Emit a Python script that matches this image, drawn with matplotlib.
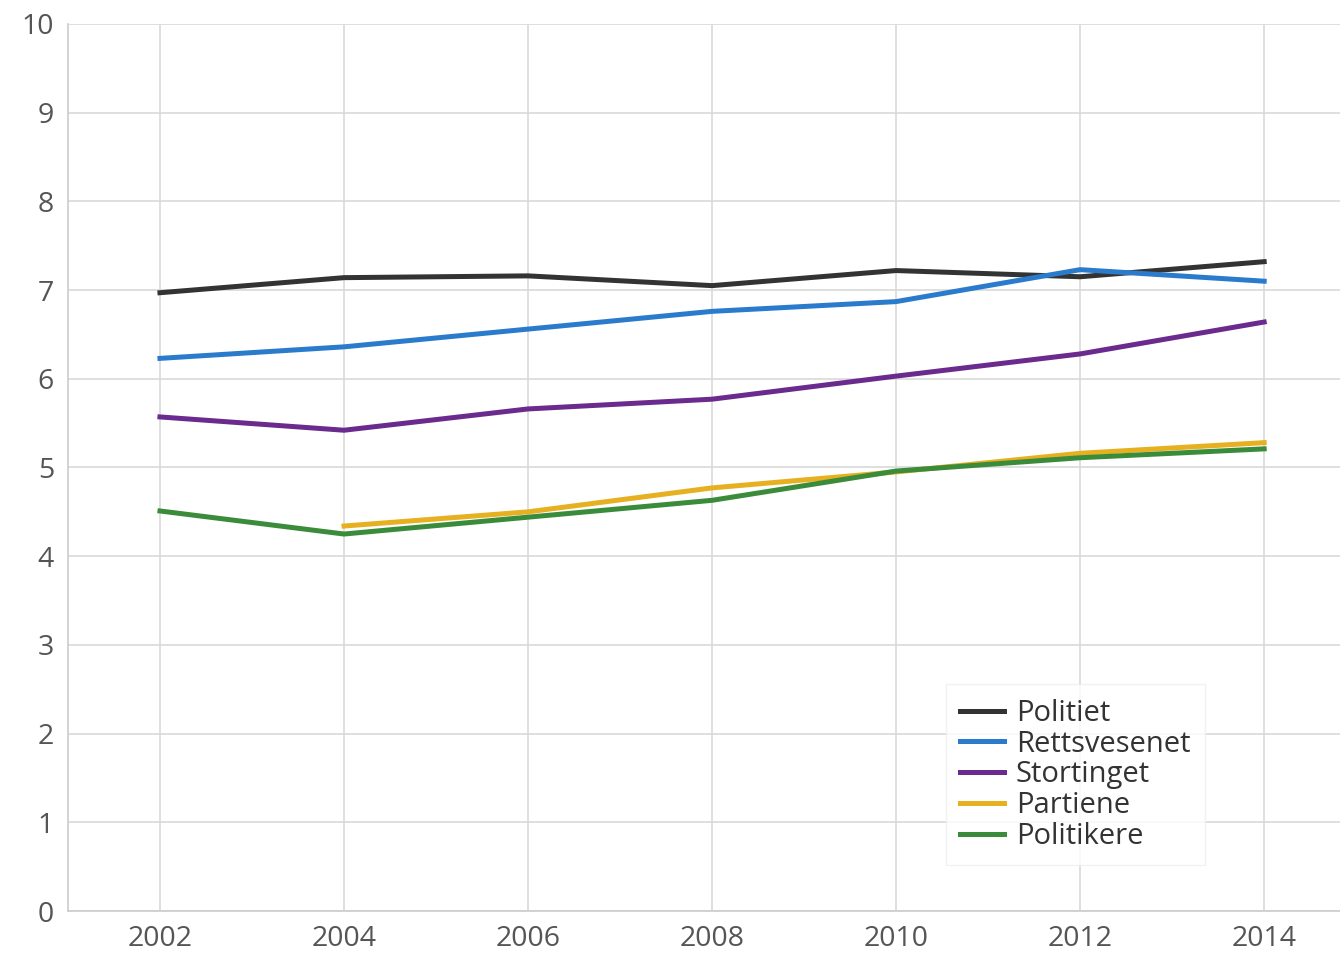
import matplotlib.pyplot as plt

plt.rcParams['font.family'] = ['Open Sans', 'DejaVu Sans']

years = [2002, 2004, 2006, 2008, 2010, 2012, 2014]
politiet = [6.97, 7.14, 7.16, 7.05, 7.22, 7.15, 7.32]
rettsvesenet = [6.23, 6.36, 6.56, 6.76, 6.87, 7.23, 7.10]
stortinget = [5.57, 5.42, 5.66, 5.77, 6.03, 6.28, 6.64]
partiene_years = [2004, 2006, 2008, 2010, 2012, 2014]
partiene = [4.34, 4.50, 4.77, 4.95, 5.16, 5.28]
politikere = [4.51, 4.25, 4.44, 4.63, 4.96, 5.11, 5.21]

fig = plt.figure(figsize=(13.4, 9.57), dpi=100)
ax = fig.add_axes([0.0507, 0.048, 0.96, 0.927])

lw = 3.6
ax.plot(years, politiet, color='#333333', lw=lw, label='Politiet')
ax.plot(years, rettsvesenet, color='#2b7bcc', lw=lw, label='Rettsvesenet')
ax.plot(years, stortinget, color='#6a2a8e', lw=lw, label='Stortinget')
ax.plot(partiene_years, partiene, color='#e6b020', lw=lw, label='Partiene')
ax.plot(years, politikere, color='#3a8c3a', lw=lw, label='Politikere')

ax.set_xlim(2001, 2014.98)
ax.set_ylim(0, 10)
ax.set_xticks(years)
ax.set_yticks(range(0, 11))
ax.grid(True, color='#d9d9d9', lw=1.2)
ax.set_axisbelow(True)
for s in ['top', 'right']:
    ax.spines[s].set_visible(False)
for s in ['left', 'bottom']:
    ax.spines[s].set_color('#cccccc')
    ax.spines[s].set_linewidth(1.2)
ax.tick_params(length=0, labelsize=20.5, labelcolor='#555555', pad=10)

leg = ax.legend(loc='lower left', bbox_to_anchor=(0.671, 0.035), fontsize=21,
                frameon=True, fancybox=False, edgecolor='#eeeeee',
                handlelength=1.5, handletextpad=0.4, labelspacing=0.06,
                borderpad=0.5)
for t in leg.get_texts():
    t.set_color('#333333')

fig.savefig('out.png', dpi=100)
